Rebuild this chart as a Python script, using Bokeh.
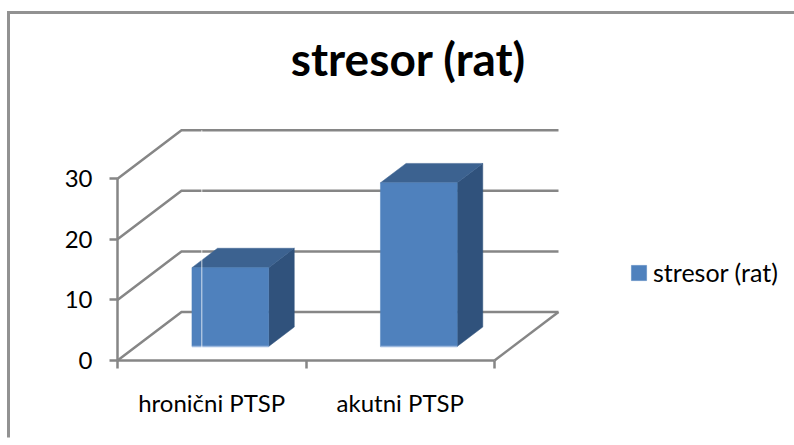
from bokeh.embed import file_html
from bokeh.resources import INLINE
from bokeh.models import Range1d, FixedTicker, LinearAxis, Label, Legend, LegendItem
from bokeh.plotting import figure

title_text = "stresor (rat)"
series_name = "stresor (rat)"
categories = ["hronični PTSP", "akutni PTSP"]
values = [13, 27]
y_ticks = [0, 10, 20, 30]

W, H = 794, 445
GREY = "#868686"
FONT = "Lato"
PX_X = 188.5           # pixels per category
PX_Y = 6.06            # pixels per value unit
X0, Y0 = 117, 360      # where the front corner of the floor sits in the picture
DEPTH_X = 64 / PX_X    # category units per full floor depth
DEPTH_Y = 48.5 / PX_Y  # value units per full floor depth
BAR_HALF = 0.2035
BAR_D0, BAR_D1 = 0.29, 0.69


def proj(c, v, d):
    return c + d * DEPTH_X, v + d * DEPTH_Y


p = figure(width=W, height=H, output_backend="svg", toolbar_location=None,
           x_range=Range1d(-X0 / PX_X, (W - X0) / PX_X),
           y_range=Range1d((Y0 - H) / PX_Y, Y0 / PX_Y),
           min_border=0, min_border_left=0, min_border_right=0,
           min_border_top=0, min_border_bottom=0,
           x_axis_location="below", y_axis_location="left")
p.outline_line_color = None
p.grid.visible = False

# outer frame of the chart area (left and top edges only show in the picture)
xl = (8 - X0) / PX_X
yt = (Y0 - 12) / PX_Y
p.line([xl, xl, (W - X0) / PX_X], [(Y0 - 437) / PX_Y, yt, yt],
       line_color=GREY, line_width=3, line_alpha=0.9, line_join="miter")

# walls and floor
n = len(categories)
for v in y_ticks:
    x0, y0 = proj(0, v, 0)
    x1, y1 = proj(0, v, 1)
    x2, y2 = proj(n, v, 1)
    p.line([x0, x1, x2], [y0, y1, y2], line_color=GREY, line_width=2.5, line_join="miter")
x0, y0 = proj(n, 0, 0)
x1, y1 = proj(n, 0, 1)
p.line([x0, x1], [y0, y1], line_color=GREY, line_width=2.5)

# 3-D bars
fx, fy, tx, ty, sx, sy = [], [], [], [], [], []
for i, v in enumerate(values):
    L, R = i + 0.5 - BAR_HALF, i + 0.5 + BAR_HALF
    a = proj(L, 0, BAR_D0); b = proj(R, 0, BAR_D0)
    c = proj(R, v, BAR_D0); d = proj(L, v, BAR_D0)
    e = proj(L, v, BAR_D1); f = proj(R, v, BAR_D1); g = proj(R, 0, BAR_D1)
    fx.append([a[0], b[0], c[0], d[0]]); fy.append([a[1], b[1], c[1], d[1]])
    tx.append([d[0], c[0], f[0], e[0]]); ty.append([d[1], c[1], f[1], e[1]])
    sx.append([b[0], g[0], f[0], c[0]]); sy.append([b[1], g[1], f[1], c[1]])

p.patches(sx, sy, fill_color="#30527C", line_color="#30527C", line_width=0.5)
p.patches(tx, ty, fill_color="#3C6290", line_color="#3C6290", line_width=0.5)
front = p.patches(fx, fy, fill_color="#4F81BD", line_color="#4F81BD", line_width=0.5)
p.segment([x[0] for x in fx], [y[0] for y in fy], [x[1] for x in fx], [y[1] for y in fy],
          line_color="#9DB9DE", line_width=1.6)

# faint scan seam that crosses the plot
seam = (201.3 - X0) / PX_X
p.segment([seam], [0], [seam], [y_ticks[-1] + DEPTH_Y], line_color="#FFFFFF", line_width=1, line_alpha=0.75)

# value axis
ya = p.yaxis[0]
ya.fixed_location = 0
ya.bounds = (y_ticks[0], y_ticks[-1])
ya.ticker = FixedTicker(ticks=y_ticks)
ya.axis_line_color = GREY
ya.axis_line_width = 2.5
ya.major_tick_line_color = GREY
ya.major_tick_line_width = 2.5
ya.major_tick_in = 0
ya.major_tick_out = 8
ya.minor_tick_line_color = None
ya.major_label_standoff = 17
ya.major_label_text_font = FONT
ya.major_label_text_font_size = "24px"
ya.major_label_text_color = "#000000"

# category axis: boundaries carry ticks, centres carry names
xa = p.xaxis[0]
xa.fixed_location = 0
xa.bounds = (0, n)
xa.ticker = FixedTicker(ticks=list(range(n + 1)))
xa.major_label_text_font_size = "0px"
xa.major_label_overrides = {i: "" for i in range(n + 1)}
xa.axis_line_color = GREY
xa.axis_line_width = 2.5
xa.major_tick_line_color = GREY
xa.major_tick_line_width = 2.5
xa.major_tick_in = 0
xa.major_tick_out = 8
xa.minor_tick_line_color = None

xb = LinearAxis(fixed_location=0, ticker=FixedTicker(ticks=[i + 0.5 for i in range(n)]),
                major_label_overrides={i + 0.5: c for i, c in enumerate(categories)})
xb.axis_line_color = None
xb.major_tick_line_color = None
xb.minor_tick_line_color = None
xb.major_label_standoff = 21
xb.major_label_text_font = FONT
xb.major_label_text_font_size = "24px"
xb.major_label_text_color = "#000000"
p.add_layout(xb, "below")

p.add_layout(Label(x=408, y=H - 58, x_units="screen", y_units="screen", text=title_text,
                   text_font=FONT, text_font_size="46px", text_font_style="bold",
                   text_align="center", text_baseline="alphabetic", text_color="#000000"))

legend = Legend(items=[LegendItem(label=series_name, renderers=[front], index=0)],
                location=(629, H - 287), orientation="vertical",
                background_fill_alpha=0, border_line_color=None,
                padding=0, margin=0, spacing=0,
                glyph_width=19, glyph_height=19, label_standoff=5,
                label_text_font=FONT, label_text_font_size="25px", label_text_color="#000000")
p.add_layout(legend, "center")

open("out.html", "w").write(file_html(p, INLINE))
